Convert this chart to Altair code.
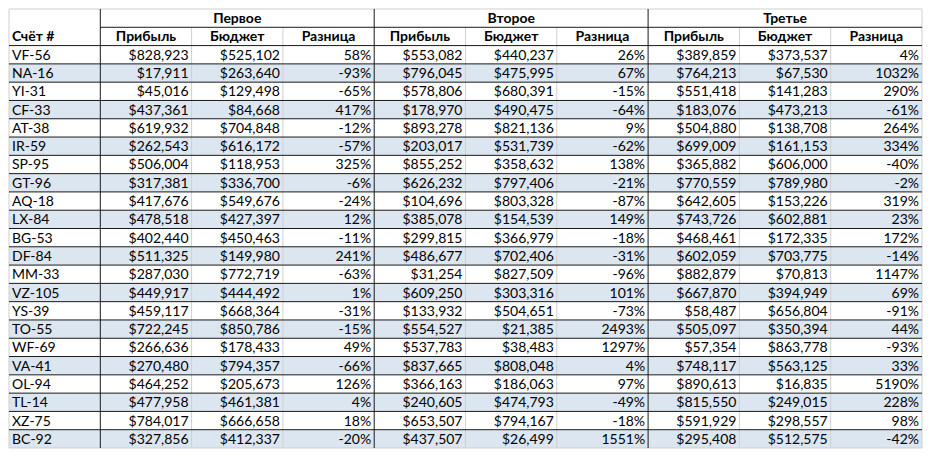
import altair as alt
import pandas as pd

accounts = ["VF-56", "NA-16", "YI-31", "CF-33", "AT-38", "IR-59", "SP-95", "GT-96", "AQ-18", "LX-84", "BG-53",
            "DF-84", "MM-33", "VZ-105", "YS-39", "TO-55", "WF-69", "VA-41", "OL-94", "TL-14", "XZ-75", "BC-92"]
groups = ["Первое", "Второе", "Третье"]
col_headers = ["Прибыль", "Бюджет", "Разница"]
first_header = "Счёт #"

profit1 = [828923, 17911, 45016, 437361, 619932, 262543, 506004, 317381, 417676, 478518, 402440,
           511325, 287030, 449917, 459117, 722245, 266636, 270480, 464252, 477958, 784017, 327856]
budget1 = [525102, 263640, 129498, 84668, 704848, 616172, 118953, 336700, 549676, 427397, 450463,
           149980, 772719, 444492, 668364, 850786, 178433, 794357, 205673, 461381, 666658, 412337]
diff1 = [58, -93, -65, 417, -12, -57, 325, -6, -24, 12, -11, 241, -63, 1, -31, -15, 49, -66, 126, 4, 18, -20]

profit2 = [553082, 796045, 578806, 178970, 893278, 203017, 855252, 626232, 104696, 385078, 299815,
           486677, 31254, 609250, 133932, 554527, 537783, 837665, 366163, 240605, 653507, 437507]
budget2 = [440237, 475995, 680391, 490475, 821136, 531739, 358632, 797406, 803328, 154539, 366979,
           702406, 827509, 303316, 504651, 21385, 38483, 808048, 186063, 474793, 794167, 26499]
diff2 = [26, 67, -15, -64, 9, -62, 138, -21, -87, 149, -18, -31, -96, 101, -73, 2493, 1297, 4, 97, -49, -18, 1551]

profit3 = [389859, 764213, 551418, 183076, 504880, 699009, 365882, 770559, 642605, 743726, 468461,
           602059, 882879, 667870, 58487, 505097, 57354, 748117, 890613, 815550, 591929, 295408]
budget3 = [373537, 67530, 141283, 473213, 138708, 161153, 606000, 789980, 153226, 602881, 172335,
           703775, 70813, 394949, 656804, 350394, 863778, 563125, 16835, 249015, 298557, 512575]
diff3 = [4, 1032, 290, -61, 264, 334, -40, -2, 319, 23, 172, -14, 1147, 69, -91, 44, -93, 33, 5190, 228, 98, -42]

FONT = "Lato"
FS = 14
BAND = "#dce6f1"
GRID = "#cfcfcf"
DARK = "#1a1a1a"

n = len(accounts)
HR = 2
NCOLS = 1 + 3 * len(groups)
NROWS = n + HR

series = [(profit1, budget1, diff1), (profit2, budget2, diff2), (profit3, budget3, diff3)]

right_cells = []
for g, (p, b, d) in enumerate(series):
    base = 1 + 3 * g
    for i in range(n):
        r = i + HR + 0.5
        right_cells.append({"x": base + 1, "y": r, "label": f"${p[i]:,}"})
        right_cells.append({"x": base + 2, "y": r, "label": f"${b[i]:,}"})
        right_cells.append({"x": base + 3, "y": r, "label": f"{d[i]}%"})
right_df = pd.DataFrame(right_cells)

left_df = pd.DataFrame({"x": [0] * n, "y": [i + HR + 0.5 for i in range(n)], "label": accounts})
left_bold_df = pd.DataFrame({"x": [0], "y": [1.5], "label": [first_header]})

center_cells = []
for g, name in enumerate(groups):
    base = 1 + 3 * g
    center_cells.append({"x": base + 1.5, "y": 0.5, "label": name})
    for k, h in enumerate(col_headers):
        center_cells.append({"x": base + k + 0.5, "y": 1.5, "label": h})
center_df = pd.DataFrame(center_cells)

band_rows = [i + HR for i in range(n) if i % 2 == 1]
band_df = pd.DataFrame({"x": [0] * len(band_rows), "x2": [NCOLS] * len(band_rows),
                        "y": band_rows, "y2": [r + 1 for r in band_rows]})

rules = []
# outer border
rules.append({"x": 0, "x2": NCOLS, "y": 0, "y2": 0, "c": GRID})
rules.append({"x": 0, "x2": NCOLS, "y": NROWS, "y2": NROWS, "c": GRID})
rules.append({"x": 0, "x2": 0, "y": 0, "y2": NROWS, "c": GRID})
rules.append({"x": NCOLS, "x2": NCOLS, "y": 0, "y2": NROWS, "c": GRID})
# light inner verticals
for g in range(len(groups)):
    base = 1 + 3 * g
    for k in (1, 2):
        rules.append({"x": base + k, "x2": base + k, "y": 1, "y2": NROWS, "c": GRID})
# horizontal dark lines
rules.append({"x": 1, "x2": NCOLS, "y": 1, "y2": 1, "c": DARK})
for r in range(HR, NROWS):
    rules.append({"x": 0, "x2": NCOLS, "y": r, "y2": r, "c": DARK})
# group separators
for g in range(len(groups)):
    base = 1 + 3 * g
    rules.append({"x": base, "x2": base, "y": 0, "y2": NROWS, "c": DARK})
rules_df = pd.DataFrame(rules)

xs = alt.Scale(domain=[0, NCOLS], nice=False, zero=False)
ys = alt.Scale(domain=[0, NROWS], nice=False, zero=False, reverse=True)

X = alt.X("x:Q", scale=xs, axis=None)
Y = alt.Y("y:Q", scale=ys, axis=None)

bands = alt.Chart(band_df).mark_rect(color=BAND).encode(x=X, x2="x2:Q", y=Y, y2="y2:Q")
lines = alt.Chart(rules_df).mark_rule(strokeWidth=1).encode(
    x=X, x2="x2:Q", y=Y, y2="y2:Q", color=alt.Color("c:N", scale=None))

txt_r = alt.Chart(right_df).mark_text(align="right", baseline="middle", dx=-3, dy=1,
                                      font=FONT, fontSize=FS, color="black").encode(x=X, y=Y, text="label:N")
txt_l = alt.Chart(left_df).mark_text(align="left", baseline="middle", dx=3, dy=1,
                                     font=FONT, fontSize=FS, color="black").encode(x=X, y=Y, text="label:N")
txt_lb = alt.Chart(left_bold_df).mark_text(align="left", baseline="middle", dx=3, dy=1, fontWeight="bold",
                                           font=FONT, fontSize=FS, color="black").encode(x=X, y=Y, text="label:N")
txt_c = alt.Chart(center_df).mark_text(align="center", baseline="middle", dy=1, fontWeight="bold",
                                       font=FONT, fontSize=FS, color="black").encode(x=X, y=Y, text="label:N")

chart = alt.layer(bands, lines, txt_r, txt_l, txt_lb, txt_c).properties(
    width=915, height=441, padding=0,
    autosize=alt.AutoSizeParams(type="fit", contains="padding"),
).configure_view(stroke=None)

chart.save("out.html", embed_options={"renderer": "svg", "actions": False})
